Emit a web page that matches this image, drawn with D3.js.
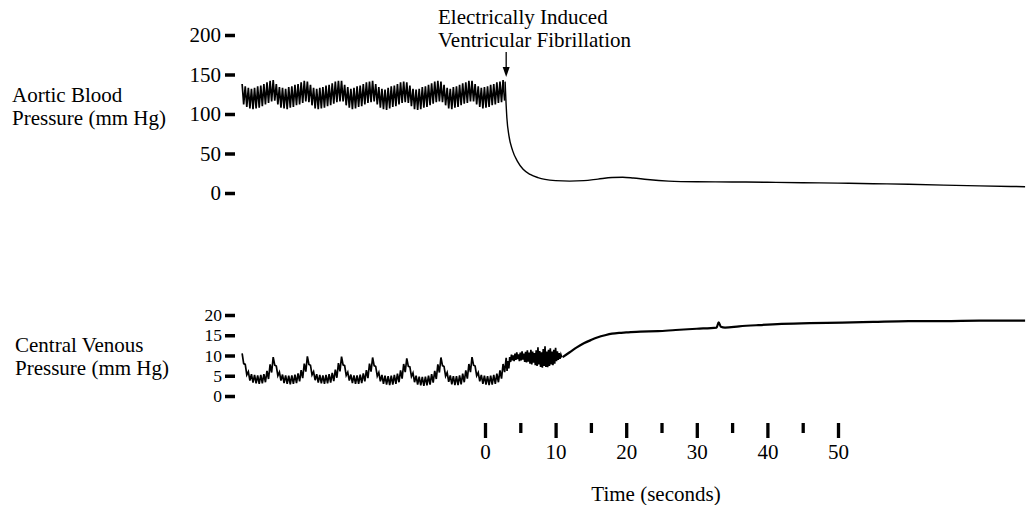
<!DOCTYPE html>
<html>
<head>
<meta charset="utf-8">
<script src="https://cdn.jsdelivr.net/npm/d3@7"></script>
<style>
body { margin: 0; background: #fff; }
svg text { font-family: "Liberation Serif", "Times New Roman", serif; fill: #000; }
</style>
</head>
<body>
<div id="chart"></div>
<script>
// tick labels
var timeTicks = [0, 10, 20, 30, 40, 50];
var timeMinor = [5, 15, 25, 35, 45];
var aorticTicks = [0, 50, 100, 150, 200];
var cvpTicks = [0, 5, 10, 15, 20];

// beat by beat part of the record (before fibrillation)
var beatStart = -34.4;   // seconds
var beatInterval = 0.44; // seconds
var fibTime = 3.0;       // fibrillation induced

var aorticSys = [
  138,135,133,132,133,135,136,138,140,142,
  143,138,134,133,132,134,135,137,138,140,142,
  141,137,133,132,133,134,136,137,139,141,142,
  142,137,134,132,133,135,136,138,140,141,
  142,138,134,132,131,133,135,136,138,140,141,
  140,136,132,131,132,134,135,137,139,141,142,
  141,137,133,132,134,135,137,139,140,142,
  142,138,135,133,134,135,137,138,140,141,143
];
var aorticDia = [
  112,109,107,106,107,108,110,112,114,116,
  117,112,108,107,106,108,109,111,112,114,116,
  115,111,107,106,107,108,110,111,113,115,116,
  116,111,108,106,107,109,110,112,114,115,
  116,112,108,106,105,107,109,110,112,114,115,
  114,110,106,105,106,108,109,111,113,115,116,
  115,111,107,106,108,109,111,113,114,116,
  116,112,109,107,108,109,111,112,114,115,117
];
// [seconds, mm Hg] after fibrillation
var aorticAfter = [
  [2.85,141],[2.95,120],[3.1,95],[3.4,72],[3.9,54],[4.6,40],[5.4,30],[6.4,23.5],
  [7.5,19.5],[8.5,17.2],[10,15.6],[12,15],[14,15.6],[16,17.6],[18,19.6],[19.5,20],
  [21,19],[23,17],[26,15],[30,14.2],[35,14],[40,13.6],[45,13],[50,12.5],[55,11.8],
  [60,11],[65,10],[70,9],[76.5,8]
];

var cvpHigh = [
  10.5,7.8,6.0,5.4,5.2,5.1,5.2,5.4,6.2,7.8,
  9.6,7.4,5.9,5.3,5.1,5.0,5.1,5.3,5.6,6.4,8.0,
  9.8,7.6,6.0,5.4,5.2,5.1,5.2,5.4,5.7,6.5,8.1,
  9.7,7.5,5.9,5.3,5.1,5.1,5.3,5.6,6.4,8.0,
  9.5,7.3,5.8,5.2,5.0,4.9,5.0,5.2,5.5,6.3,7.9,
  9.3,7.2,5.7,5.0,4.8,4.7,4.8,5.0,5.4,6.2,7.8,
  9.5,7.3,5.8,5.1,4.9,4.9,5.1,5.5,6.3,7.9,
  9.6,7.4,5.8,5.2,5.0,4.9,5.0,5.2,5.5,6.3,7.9
];
var cvpLow = [
  8.0,5.2,3.8,3.3,3.1,3.0,3.1,3.4,4.2,5.8,
  7.6,5.0,3.8,3.2,3.0,2.9,3.0,3.2,3.6,4.4,6.0,
  7.8,5.2,3.9,3.3,3.1,3.0,3.1,3.3,3.7,4.5,6.1,
  7.7,5.1,3.8,3.2,3.0,3.0,3.2,3.6,4.4,6.0,
  7.5,4.9,3.6,3.0,2.8,2.7,2.8,3.0,3.4,4.3,5.9,
  7.3,4.8,3.4,2.8,2.6,2.5,2.6,2.8,3.3,4.2,5.8,
  7.5,4.9,3.5,2.9,2.7,2.7,2.9,3.4,4.3,5.9,
  7.6,5.0,3.6,3.0,2.8,2.7,2.8,3.0,3.4,4.3,5.9
];

// CVP during fibrillation, one high/low pair every 0.25 s from fibTime
var fibStep = 0.25;
var cvpFibHigh = [9.4,8.6,9.6,10.2,10.0,10.5,10.8,10.3,10.7,11.0,10.5,10.9,11.3,10.7,11.4,11.0,
                  10.6,11.3,12.0,11.1,10.8,11.6,12.3,11.0,11.4,11.8,11.0,11.4,11.9,11.0,10.6,10.2];
var cvpFibLow = [6.2,6.8,8.4,8.8,8.6,8.9,9.1,8.6,8.8,9.0,8.4,8.3,8.5,8.0,7.8,8.2,
                 7.6,7.4,7.8,7.2,7.0,7.4,7.2,7.1,7.4,7.8,7.6,8.0,8.6,8.9,9.2,9.5];
var cvpAfter = [
  [11,9.6],[12,10.8],[13,12],[14,13],[15,13.8],[16,14.5],[17,15],[18,15.4],[19,15.6],
  [20,15.7],[22,15.9],[24.5,16.0],[27,16.3],[30,16.6],[32.8,16.9],[33.1,18.2],[33.4,17.1],
  [34,16.9],[36,17.2],[38.7,17.5],[42,17.8],[46,18.0],[50.6,18.1],[55,18.3],[60,18.5],
  [65,18.5],[70,18.6],[76.5,18.6]
];

var svg = d3.select("#chart")
  .append("svg")
  .attr("width", 1026)
  .attr("height", 505);

var x = d3.scaleLinear().domain([0, 50]).range([485, 838]);
var aoY = d3.scaleLinear().domain([0, 200]).range([193, 35]);
var cvY = d3.scaleLinear().domain([0, 20]).range([396, 315]);

// zigzag points: one high and one low per beat
function beats(hi, lo, t0, dt) {
  var pts = [];
  for (var i = 0; i < hi.length; i++) {
    pts.push([t0 + i * dt, hi[i]]);
    pts.push([t0 + i * dt + dt / 2, lo[i]]);
  }
  return pts;
}

var aoLine = d3.line().x(function(d){ return x(d[0]); }).y(function(d){ return aoY(d[1]); });
var cvLine = d3.line().x(function(d){ return x(d[0]); }).y(function(d){ return cvY(d[1]); });

svg.append("path")
  .attr("d", aoLine(beats(aorticSys, aorticDia, beatStart, beatInterval)))
  .attr("fill", "none").attr("stroke", "#000").attr("stroke-width", 1.7);

svg.append("path")
  .attr("d", aoLine.curve(d3.curveMonotoneX)(aorticAfter))
  .attr("fill", "none").attr("stroke", "#000").attr("stroke-width", 1.4);

svg.append("path")
  .attr("d", cvLine(beats(cvpHigh, cvpLow, beatStart, beatInterval).concat(beats(cvpFibHigh, cvpFibLow, fibTime, fibStep))))
  .attr("fill", "none").attr("stroke", "#000").attr("stroke-width", 1.7);

svg.append("path")
  .attr("d", cvLine.curve(d3.curveMonotoneX)(cvpAfter))
  .attr("fill", "none").attr("stroke", "#000").attr("stroke-width", 2.2);

// axes
function styleAxis(g, w, fs) {
  g.select(".domain").remove();
  g.attr("font-family", "Liberation Serif").attr("font-size", fs);
  g.selectAll(".tick line").attr("stroke-width", w);
}

svg.append("g")
  .attr("transform", "translate(235,0)")
  .call(d3.axisLeft(aoY).tickValues(aorticTicks).tickSize(10).tickPadding(4))
  .call(styleAxis, 3.5, 21);

// CVP ticks sit only 20px apart, so a slightly smaller font
svg.append("g")
  .attr("transform", "translate(235,0)")
  .call(d3.axisLeft(cvY).tickValues(cvpTicks).tickSize(10).tickPadding(3))
  .call(styleAxis, 3.5, 17.5);

svg.append("g")
  .attr("transform", "translate(0,423)")
  .call(d3.axisBottom(x).tickValues(timeTicks).tickSize(15).tickPadding(6))
  .call(styleAxis, 3.3, 21);

svg.append("g")
  .attr("transform", "translate(0,423)")
  .call(d3.axisBottom(x).tickValues(timeMinor).tickSize(10).tickFormat(""))
  .call(styleAxis, 3.3, 21);

// labels
svg.append("text").attr("x", 12).attr("y", 102).attr("font-size", 21).text("Aortic Blood");
svg.append("text").attr("x", 12).attr("y", 125).attr("font-size", 21).text("Pressure (mm Hg)");
svg.append("text").attr("x", 15).attr("y", 352).attr("font-size", 21).text("Central Venous");
svg.append("text").attr("x", 15).attr("y", 375).attr("font-size", 21).text("Pressure (mm Hg)");
svg.append("text").attr("x", 656).attr("y", 501).attr("font-size", 21).attr("text-anchor", "middle").text("Time (seconds)");

svg.append("text").attr("x", 438).attr("y", 24).attr("font-size", 21).text("Electrically Induced");
svg.append("text").attr("x", 438).attr("y", 47).attr("font-size", 21).text("Ventricular Fibrillation");

// arrow to fibrillation onset
var ax = x(fibTime);
svg.append("line")
  .attr("x1", ax).attr("x2", ax).attr("y1", 52).attr("y2", 70)
  .attr("stroke", "#000").attr("stroke-width", 1.3);
svg.append("path")
  .attr("d", "M" + (ax - 3.5) + ",67L" + (ax + 3.5) + ",67L" + ax + ",77Z")
  .attr("fill", "#000");
</script>
</body>
</html>
